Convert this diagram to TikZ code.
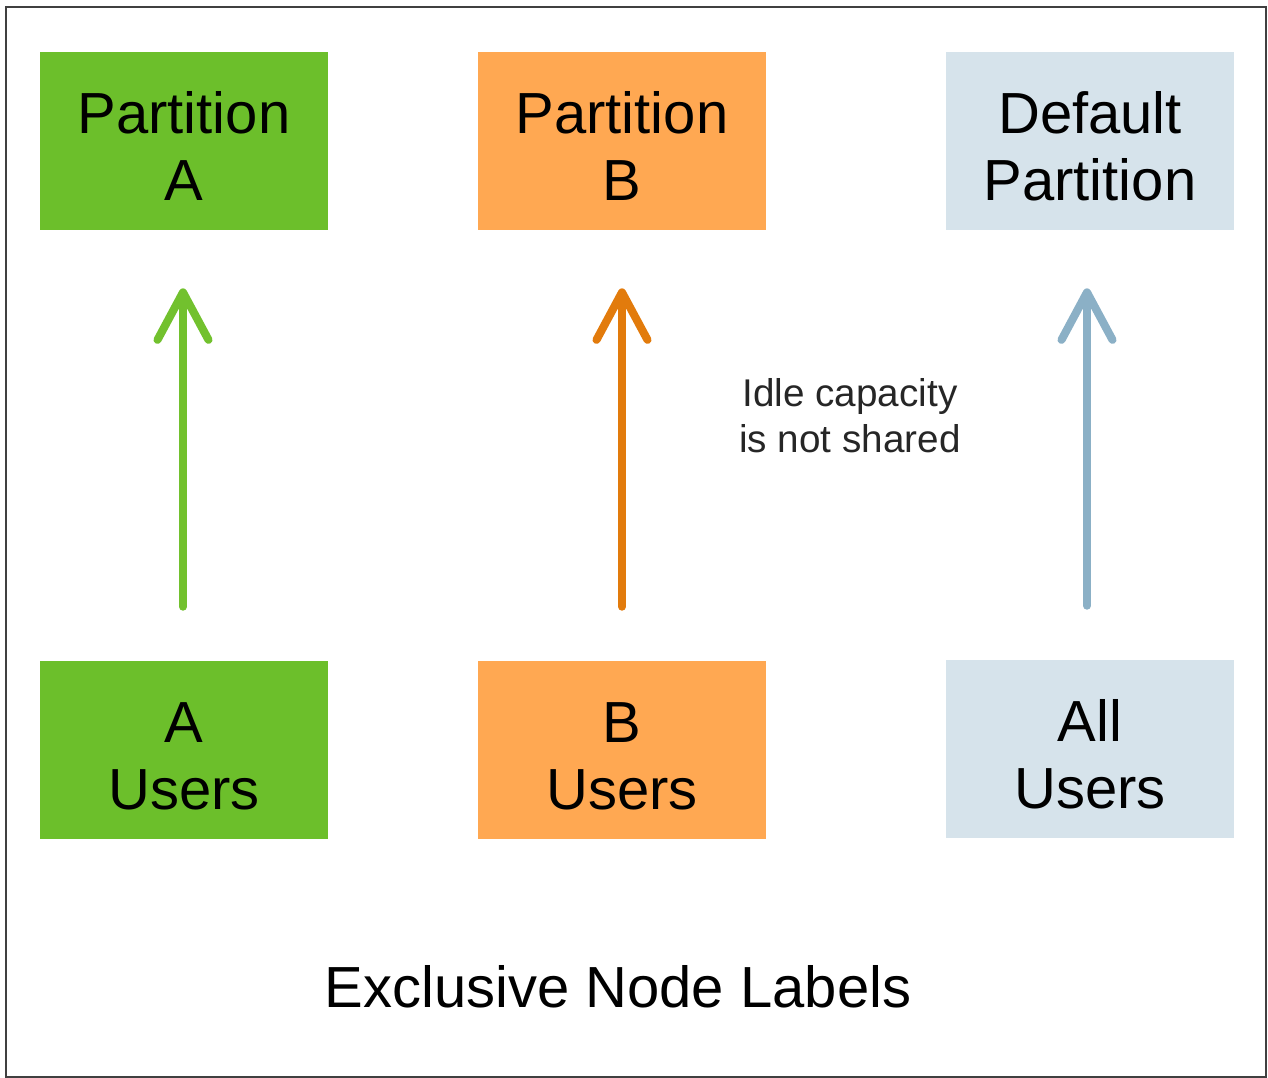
\documentclass[tikz,border=0pt]{standalone}
\usepackage{fontspec}
\setmainfont{Liberation Sans}
\usetikzlibrary{arrows.meta}

\definecolor{partgreen}{HTML}{6CBF2B}
\definecolor{partorange}{HTML}{FFA852}
\definecolor{partblue}{HTML}{D6E3EB}
\definecolor{arrgreen}{HTML}{72C12E}
\definecolor{arrorange}{HTML}{E27B0C}
\definecolor{arrblue}{HTML}{8BB0C6}

\newcommand{\boxstrut}{\rule{0pt}{29.5pt}}

\tikzset{
    partbox/.style = {minimum width = 5.76cm, minimum height = 3.56cm, inner sep = 0pt,
        align = center, font = \fontsize{33}{38}\selectfont},
    uparrow/.style = {line width = 4.6pt, line cap = round,
        -{Straight Barb[length = 0.95cm, width = 1.02cm, round]},
        shorten > = 1.16cm, shorten < = 1.08cm}
}

\begin{document}
\begin{tikzpicture}[x = 0.02cm, y = -0.02cm]
            \useasboundingbox (0, 0) rectangle (1268, 1078);
            \draw[line width = 1.5pt, black!75] (6, 7) rectangle (1266, 1077);

            \node[partbox, fill = partgreen] (parta) at (184, 141) {\boxstrut Partition\\A};
            \node[partbox, fill = partorange] (partb) at (622, 141) {\boxstrut Partition\\B};
            \node[partbox, fill = partblue] (partdef) at (1090, 141) {\boxstrut Default\\Partition};

            \node[partbox, fill = partgreen] (ausers) at (184, 750) {\boxstrut A\\Users};
            \node[partbox, fill = partorange] (busers) at (622, 750) {\boxstrut B\\Users};
            \node[partbox, fill = partblue] (allusers) at (1090, 749) {\boxstrut All\\Users};

            \foreach \u/\p/\c/\dx in {ausers/parta/arrgreen/-1, busers/partb/arrorange/0, allusers/partdef/arrblue/-3}{
                \draw[uparrow, \c] ([xshift = \dx * 0.02cm]\u.north) -- ([xshift = \dx * 0.02cm]\p.south);
            }

            \node[align = center, font = \fontsize{22}{26}\selectfont, black!85] (idle) at (850, 416)
                {Idle capacity\\is not shared};

            \node[font = \fontsize{33}{38}\selectfont] (title) at (618, 987) {Exclusive Node Labels};
        \end{tikzpicture}
\end{document}
